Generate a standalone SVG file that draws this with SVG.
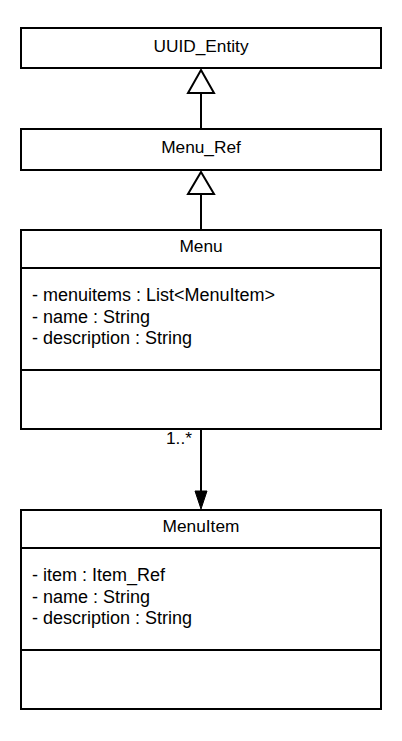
<svg xmlns="http://www.w3.org/2000/svg" width="402" height="741" viewBox="0 0 402 741">
<style>
.box{fill:#fff;stroke:#000;stroke-width:2}
.ln{stroke:#000;stroke-width:2;fill:none}
text{font-family:"Liberation Sans",Arial,sans-serif;font-size:17.3px;fill:#000}
.t{text-anchor:middle}
.a{font-size:18px}
.gen{fill:#fff;stroke:#000;stroke-width:2}
</style>
<rect width="402" height="741" fill="#fff"/>
<g id="connectors">
<line class="ln" x1="201" y1="93" x2="201" y2="129"/>
<polygon class="gen" points="201,70 214,93 188,93"/>
<line class="ln" x1="201" y1="194" x2="201" y2="230"/>
<polygon class="gen" points="201,172 214,194 188,194"/>
<line class="ln" x1="201" y1="429" x2="201" y2="494"/>
<polygon points="195,491 207,491 201,509" fill="#000" stroke="#000" stroke-width="1"/>
<text x="166" y="444">1..*</text>
</g>
<g id="uuid_entity">
<rect class="box" x="21" y="28" width="360" height="40"/>
<text class="t" x="201" y="52">UUID_Entity</text>
</g>
<g id="menu_ref">
<rect class="box" x="21" y="129" width="360" height="41"/>
<text class="t" x="201" y="153">Menu_Ref</text>
</g>
<g id="menu">
<rect class="box" x="21" y="230" width="360" height="199"/>
<line class="ln" x1="21" y1="268" x2="381" y2="268"/>
<line class="ln" x1="21" y1="370" x2="381" y2="370"/>
<text class="t" x="201" y="252">Menu</text>
<text class="a" x="32" y="301">- menuitems : List&lt;MenuItem&gt;</text>
<text class="a" x="32" y="322.5">- name : String</text>
<text class="a" x="32" y="344">- description : String</text>
</g>
<g id="menuitem">
<rect class="box" x="21" y="510" width="360" height="199"/>
<line class="ln" x1="21" y1="548" x2="381" y2="548"/>
<line class="ln" x1="21" y1="650" x2="381" y2="650"/>
<text class="t" x="201" y="532">MenuItem</text>
<text class="a" x="32" y="581">- item : Item_Ref</text>
<text class="a" x="32" y="602.5">- name : String</text>
<text class="a" x="32" y="624">- description : String</text>
</g>
</svg>
